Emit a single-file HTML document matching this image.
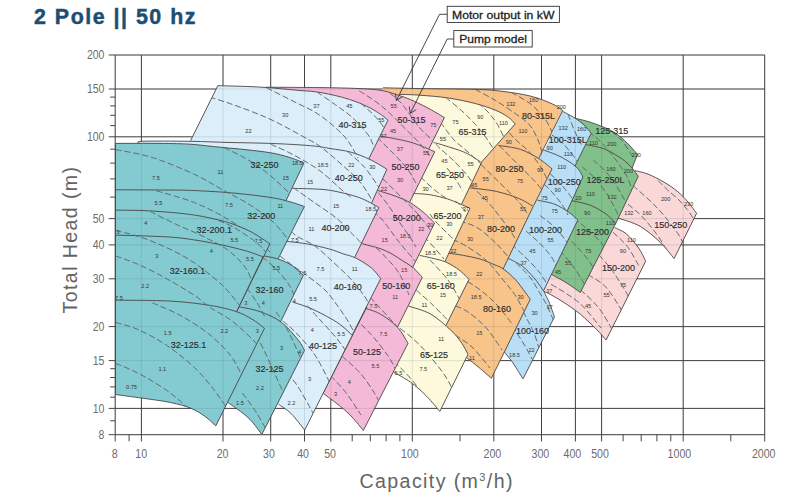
<!DOCTYPE html>
<html lang="en"><head><meta charset="utf-8"><title>2 Pole || 50 hz</title>
<style>html,body{margin:0;padding:0;background:#fff}svg{display:block}</style></head>
<body>
<svg width="797" height="497" viewBox="0 0 797 497">
<rect width="797" height="497" fill="#fff"/>
<path d="M115.2 55V434.7M141.4 55V434.7M223 55V434.7M270.7 55V434.7M304.5 55V434.7M330.8 55V434.7M412.3 55V434.7M493.8 55V434.7M541.5 55V434.7M575.4 55V434.7M601.6 55V434.7M683.2 55V434.7M764.7 55V434.7M115.2 434.7H764.7M115.2 408.4H764.7M115.2 360.6H764.7M115.2 326.6H764.7M115.2 278.8H764.7M115.2 244.9H764.7M115.2 218.6H764.7M115.2 136.8H764.7M115.2 89H764.7M115.2 55H764.7" fill="none" stroke="#4b4343" stroke-width="1"/>
<path d="M115.2 434.7V441.5M141.4 434.7V441.5M223 434.7V441.5M270.7 434.7V441.5M304.5 434.7V441.5M330.8 434.7V441.5M412.3 434.7V441.5M493.8 434.7V441.5M541.5 434.7V441.5M575.4 434.7V441.5M601.6 434.7V441.5M683.2 434.7V441.5M764.7 434.7V441.5M129.1 434.7V441.3M352.2 434.7V441.3M370.3 434.7V441.3M386.1 434.7V441.3M399.9 434.7V441.3M460 434.7V441.3M623.1 434.7V441.3M641.2 434.7V441.3M656.9 434.7V441.3M670.8 434.7V441.3M730.8 434.7V441.3M108.7 434.7H115.2M108.7 408.4H115.2M108.7 360.6H115.2M108.7 326.6H115.2M108.7 278.8H115.2M108.7 244.9H115.2M108.7 218.6H115.2M108.7 136.8H115.2M108.7 89H115.2M108.7 55H115.2M110.2 420.8H115.2M110.2 397.2H115.2M110.2 386.9H115.2M110.2 377.5H115.2M110.2 368.7H115.2M110.2 197.1H115.2M110.2 178.9H115.2M110.2 163.1H115.2M110.2 149.2H115.2M110.2 125.6H115.2M110.2 115.3H115.2M110.2 105.9H115.2M110.2 97.1H115.2" fill="none" stroke="#4b4343" stroke-width="1"/>
<defs><clipPath id="c_lpink"><path d="M634.9 170.6C637.5 171.3 644.5 172.5 650.4 175.1C656.3 177.7 664.8 182.3 670.5 186.2C676.2 190 680.2 193.7 684.6 198.2C689 202.7 694.6 210.8 696.6 213.3L674.1 258.6C671.8 255.9 666 247.9 660.4 242.5C654.8 237.1 647.2 230.4 640.3 226.4C633.4 222.4 622.7 219.7 619.2 218.4L600 205Z"/><path d="M614.6 227.5C616.6 228.6 622.6 230.7 626.6 234.1C630.6 237.5 635.5 243.7 638.7 248.2C641.9 252.7 644.5 259 645.7 261.2L606.1 340C604.5 338.2 600.7 333.6 596.4 329.3C592.1 325 586.3 319.1 580.3 314.2C574.3 309.3 566.3 304 560.2 300.1C554.1 296.2 546.5 292.6 543.7 291.1L551.1 274.3L575 240Z"/></clipPath><clipPath id="c_green"><path d="M575.1 118.2C577.6 118.9 584.3 120.2 590.2 122.2C596.1 124.2 604.6 127.2 610.3 130.2C616 133.2 619.9 136.3 624.4 140.3C628.9 144.3 635.3 152.1 637.5 154.4L630.5 172L600 175L566 175Z"/><path d="M586 144.6C589 145.3 598.7 146.8 604.1 148.8C609.5 150.8 614.6 154.2 618.2 156.4C621.9 158.6 623.6 160 626 162C628.4 164 630.2 165.8 632.3 168.2C634.3 170.6 637.3 174.9 638.3 176.2L615.2 224.5L590 230L560 210Z"/><path d="M570.4 200.3C573.8 201.1 584.5 203 590.5 205.3C596.5 207.7 602.4 211.4 606.6 214.4C610.8 217.4 614.1 222.1 615.6 223.6L580.3 292.4C577.9 290.8 570.9 285.5 566 282.5C561.1 279.5 553.6 275.7 551.1 274.3L545 260Z"/></clipPath><clipPath id="c_blue"><path d="M562.7 111.4C564.8 112.5 571.6 115.9 575.1 118.2C578.6 120.5 581.3 122.5 584 125C586.7 127.5 590 131.9 591.2 133.3L574 168L560 175L535 170Z"/><path d="M543.2 149.8C545.7 150.8 554.1 153.7 558.2 155.6C562.3 157.5 565.2 159.3 568 161C570.8 162.7 573.2 164.4 575.1 166C577 167.6 578.3 169 579.6 170.8C580.9 172.6 582.3 176 582.8 177L566.8 211.8L550 215L520 200Z"/><path d="M537.6 200.2C540.5 200.9 549.5 202.2 554.7 204.2C559.9 206.2 564.9 209.7 568.8 212.3C572.6 214.9 576.3 218.7 577.8 220L543.7 290.4L520 290L500 260Z"/><path d="M508.2 258.3C510.5 259.6 518.1 262.9 522.3 266.1C526.5 269.3 530.1 273.5 533.5 277.3C536.9 281.1 540.2 286 542.4 289.2C544.5 292.4 545.2 294.1 546.4 296.5C547.6 298.9 548.2 300.1 549.6 303.5C551 306.9 553.7 314.6 554.5 316.8L523 378.9C521.3 376.2 516.1 367.5 513 363C509.9 358.5 505.8 353.8 504.3 352L490 340L495 270Z"/></clipPath><clipPath id="c_orange"><path d="M383 87.8C389.2 87.9 404.7 88.3 420 88.6C435.3 88.9 461.6 89 475 89.4C488.4 89.8 491.1 90 500.4 91.1C509.6 92.2 521.8 93.9 530.5 96.1C539.2 98.3 547.3 101.7 552.7 104.1C558.1 106.5 561 109.5 562.7 110.6L538 159.8L520 165L480 170L360 133Z"/><path d="M498.4 145.4C502.1 146.1 513.8 147.2 520.5 149.4C527.2 151.6 533.4 155.3 538.6 158.5C543.9 161.7 549.8 167.1 552 168.8L533.6 205.8L510 210L452 206L468 160Z"/><path d="M470.3 187.9C474.6 188.5 488.2 189.6 496.3 191.4C504.4 193.2 512.8 196 518.9 198.5C525 201 530.8 205.1 533.2 206.4L502.6 270L480 275L440 262L455 215Z"/><path d="M448.6 253.2C451.1 253.6 458.2 254.4 463.4 255.4C468.6 256.4 474.9 257.5 480 259C485.1 260.5 490.2 263 494.1 264.6C498 266.2 499.7 266.4 503.2 268.9C506.7 271.4 511.6 275.5 515.2 279.4C518.9 283.3 522.6 288.8 525.1 292.1C527.6 295.4 529.4 298 530.3 299.2L491.4 378.3C489.3 376.5 483 370.9 479 367.5C475 364.1 469.2 359.8 467.2 358.2L440 330L440 270Z"/></clipPath><clipPath id="c_yellow"><path d="M399.5 94.3C402.9 94.5 412 94.6 420 95.2C428 95.8 438.4 96.5 447.6 97.9C456.8 99.3 467.1 101.4 475.2 103.5C483.2 105.6 490.4 108.1 495.9 110.4C501.4 112.7 505.1 115 508.3 117.3C511.5 119.5 514.1 122.8 515.2 123.9L481.2 162.5L460 170L420 160L400 120Z"/><path d="M433.4 142.6C434.5 142.9 434.7 142.5 440 144.2C445.3 145.9 458.5 149.6 465.4 152.7C472.3 155.8 478.8 160.9 481.5 162.5L461.4 204.5L440 215L405 200L420 160Z"/><path d="M413.3 193.4C416.1 193.6 424.7 193.9 430.4 194.8C436.1 195.7 442.6 197.5 447.3 198.9C452 200.3 454.8 201.8 458.6 203.3C462.4 204.9 468.1 207.4 470 208.2L444.8 261.8L430 275L395 260L405 215Z"/><path d="M419.7 255.4C422.3 256 431 257.8 435.2 258.9C439.4 259.9 441.6 260.2 445.1 261.7C448.6 263.2 453.2 266 456.3 268C459.4 270 461.3 271.8 463.4 273.7C465.5 275.6 468.1 278.4 469 279.3L446 325.4L420 330L390 320L400 280Z"/><path d="M408.6 306.1C412.3 307.4 423.7 310.1 430.7 314.1C437.7 318.1 445.8 325.6 450.8 330.2C455.9 334.8 458.1 338 461 342C463.9 346 466.8 352.3 468 354.4L439.8 411.4C437.6 408.9 431.6 401.2 426.7 396.3C421.8 391.4 416.1 386.2 410.6 382.2C405.1 378.2 396.4 373.8 393.5 372.1L380 360L395 315Z"/></clipPath><clipPath id="c_pink"><path d="M266 87.2C275 87.3 304.3 87.4 320 87.6C335.7 87.8 349.6 88.1 360 88.6C370.4 89.1 376 89.5 382.4 90.6C388.8 91.7 393.5 93.7 398.2 95.2C402.9 96.7 405.8 97.6 410.5 99.6C415.2 101.6 422.1 105 426.3 107.2C430.6 109.4 433 110.9 436 112.6C439 114.3 443 116.8 444.4 117.6L428.6 149.5L400 160L340 160L300 110Z"/><path d="M380.1 136C385.1 137 401.1 139.5 410.2 142.1C419.3 144.7 430.7 150.1 434.8 151.7L409.4 202.6L395 205L350 200L365 150Z"/><path d="M377.6 190.4C380.5 191.3 389.8 194.1 395.2 196.1C400.6 198.1 405.3 199.9 410 202.6C414.7 205.3 419.3 208.9 423.4 212.3C427.5 215.7 432.7 221.2 434.6 223L412.6 267.6L395 275L340 265L360 210Z"/><path d="M361 243.3C362.5 243.7 366.6 244.9 370 245.8C373.4 246.7 377.4 247.5 381.1 248.9C384.8 250.3 388.5 252.1 392 254C395.5 255.9 398.7 258.3 402.3 260.6C405.9 262.9 410.2 265.2 413.5 268C416.8 270.8 420.8 275.8 422.3 277.4L397.5 327.2L380 335L340 330L350 260Z"/><path d="M365.9 308.5C368.3 309.4 375.1 311 380.4 314.1C385.7 317.2 392.9 322.3 397.5 327.2C402.1 332.1 406.2 340.6 408 343.3L363.3 430.5C361.4 428.2 355.9 421 352 417C348.1 413 345 410.2 340.2 406.3C335.4 402.4 326 395.5 323.1 393.3L366.8 307.1Z"/></clipPath><clipPath id="c_lblue"><path d="M217.8 85.7C223.2 85.8 240.5 86.2 250 86.6C259.5 87 266.7 87.5 275 88.2C283.3 88.9 293.5 89.9 300 90.5C306.5 91.1 309.4 91 314.1 91.6C318.8 92.2 323.5 93 328.2 94C332.9 95 337.6 96 342.3 97.3C347 98.6 351.6 100 356.3 101.8C361 103.6 366.2 105.9 370.4 108.1C374.6 110.3 378.8 113.1 381.7 115.1C384.6 117.1 386.9 119.3 388 120.1L368.6 159.2L340 160L190.5 150L190.5 140.8Z"/><path d="M139.5 143.5C139.9 143.1 133.6 141.7 142 141.3C150.4 140.9 175.3 141.1 190 141.3C204.7 141.5 216.6 142.2 230 142.5C243.4 142.8 257.1 142.9 270.5 143.4C283.9 143.9 300.6 144.8 310.5 145.7C320.4 146.5 323.3 147.4 330 148.5C336.7 149.6 344 150.3 350.7 152.1C357.4 153.9 364 156.7 370 159.5C376 162.3 384.1 167.6 386.9 169.2L371.5 203.2L350 215L200 215L139.5 180Z"/><path d="M292.4 188.4C295.3 188.5 303.6 188.5 310 188.8C316.4 189.1 322.5 189 330.6 190.4C338.7 191.8 350.8 194.6 358.8 197.4C366.9 200.2 375.5 205.8 378.9 207.5L354.7 257.3L340 265L250 265L250 200Z"/><path d="M286.3 241.3C289.9 241.8 301 242.8 308.2 244.1C315.4 245.4 323.4 247.4 329.3 249C335.2 250.6 338.9 252.4 343.4 253.9C347.9 255.4 351.4 255.8 356.1 258.2C360.8 260.6 367.4 264.6 371.5 268C375.6 271.4 379.2 276.8 380.7 278.6L351.4 336.5L320 345L250 345L250 250Z"/><path d="M292.4 302C295.3 303 303.7 305.4 310 308.1C316.3 310.8 324.8 315.2 330.1 318.2C335.4 321.2 338.3 323.1 342 326C345.7 328.9 350.6 333.8 352.3 335.3L304.7 430.1C302.4 427.3 295.4 417.8 291 413.5C286.6 409.2 280.6 405.8 278.5 404.3L250 380L260 310Z"/></clipPath><clipPath id="c_teal"><path d="M115.5 143.4C122.9 143.4 147.6 143.3 160 143.4C172.4 143.5 181.7 143.7 190 144.2C198.3 144.7 204.3 145.6 210 146.2C215.7 146.8 218.2 147 224.1 147.6C230 148.2 237.4 148.7 245.2 149.6C252.9 150.5 263.3 151.5 270.6 152.8C277.9 154.1 283.3 155.5 288.9 157.2C294.5 158.9 301.5 161.9 304 162.9L285.6 201.5L280 212L115.5 212Z"/><path d="M115.5 189.8C122.9 189.8 147.5 189.9 160 190C172.5 190.1 178.7 189.9 190.5 190.4C202.3 190.9 217.4 191.6 230.7 192.8C244 194 260.3 195.9 270.2 197.4C280.1 198.9 284.3 200.3 290 201.8C295.7 203.3 302 205.7 304.4 206.5L278 259L270 265L115.5 265Z"/><path d="M262.2 255.6C264.9 256.2 273.4 257.5 278.3 259.1C283.2 260.7 287.2 262.5 291.4 265.2C295.6 267.9 301.3 273.7 303.3 275.4L280.3 322.3L260 325L232 318Z"/><path d="M238.6 306.6C242.2 307.5 253.1 309.1 260.2 311.7C267.3 314.3 274.9 317.4 281.3 322.2C287.7 327 294.5 335.6 298.4 340.3C302.3 345 303.5 348.7 304.5 350.4L261.8 434.5C260.5 432.8 256.9 427.4 254 424C251.1 420.6 248.6 417.9 244.3 414.4C240 410.8 230.9 404.6 228.2 402.7L220 380L225 320Z"/></clipPath><clipPath id="c_teal1"><path d="M115.5 210.1C121.2 210.2 137.5 210.2 150 210.9C162.5 211.6 179.1 213 190.5 214.5C201.9 216 211.7 218.4 218.6 220C225.5 221.6 226.6 221.8 232 223.8C237.4 225.8 244.7 228.5 251 231.8C257.3 235.1 266.8 241.8 269.9 243.8L236.4 312L115.5 312Z"/><path d="M115.5 235.1C124.7 235.4 156.3 236.1 170.4 237.1C184.5 238.1 191.3 239.5 200 240.8C208.7 242.2 215.2 243.6 222.7 245.2C230.2 246.8 238.3 248.7 245 250.6C251.7 252.5 260 255.8 263 256.8L236.4 312L115.5 312Z"/><path d="M115.5 300.1C124.7 300.3 154.6 300.2 170.4 301.1C186.2 302 199.5 303.7 210.6 305.5C221.7 307.3 229.9 309.5 236.8 311.8C243.7 314.1 247.4 316.5 252 319.2C256.6 321.9 262.4 326.7 264.5 328.2L215.8 425.9C214 424.3 208.9 419.1 204.7 416.2C200.5 413.2 196.3 410.5 190.6 408.2C184.9 405.9 178.6 404.2 170.5 402.5C162.4 400.8 151.1 399.4 141.9 398.1C132.7 396.8 119.9 395.1 115.5 394.5Z"/></clipPath></defs>
<path d="M634.9 170.6C637.5 171.3 644.5 172.5 650.4 175.1C656.3 177.7 664.8 182.3 670.5 186.2C676.2 190 680.2 193.7 684.6 198.2C689 202.7 694.6 210.8 696.6 213.3L674.1 258.6C671.8 255.9 666 247.9 660.4 242.5C654.8 237.1 647.2 230.4 640.3 226.4C633.4 222.4 622.7 219.7 619.2 218.4L600 205Z" fill="#fad8d8"/>
<path d="M634.9 170.6C637.5 171.3 644.5 172.5 650.4 175.1C656.3 177.7 664.8 182.3 670.5 186.2C676.2 190 680.2 193.7 684.6 198.2C689 202.7 694.6 210.8 696.6 213.3L674.1 258.6C671.8 255.9 666 247.9 660.4 242.5C654.8 237.1 647.2 230.4 640.3 226.4C633.4 222.4 622.7 219.7 619.2 218.4" fill="none" stroke="#4a4444" stroke-width="0.9" stroke-linejoin="round"/>
<path d="M614.6 227.5C616.6 228.6 622.6 230.7 626.6 234.1C630.6 237.5 635.5 243.7 638.7 248.2C641.9 252.7 644.5 259 645.7 261.2L606.1 340C604.5 338.2 600.7 333.6 596.4 329.3C592.1 325 586.3 319.1 580.3 314.2C574.3 309.3 566.3 304 560.2 300.1C554.1 296.2 546.5 292.6 543.7 291.1L551.1 274.3L575 240Z" fill="#fad8d8"/>
<path d="M614.6 227.5C616.6 228.6 622.6 230.7 626.6 234.1C630.6 237.5 635.5 243.7 638.7 248.2C641.9 252.7 644.5 259 645.7 261.2L606.1 340C604.5 338.2 600.7 333.6 596.4 329.3C592.1 325 586.3 319.1 580.3 314.2C574.3 309.3 566.3 304 560.2 300.1C554.1 296.2 546.5 292.6 543.7 291.1" fill="none" stroke="#4a4444" stroke-width="0.9" stroke-linejoin="round"/>
<path clip-path="url(#c_lpink)" d="M658 180.5C659.6 182.1 664.1 186.8 667.6 190C671.1 193.2 675.6 196.6 678.9 199.9C682.2 203.2 684.9 206.7 687.3 209.7C689.6 212.7 691.4 215.3 693 218C694.6 220.7 696.3 224.7 697 226M633 185.5C633.8 186.2 634.6 186.9 638 190C641.4 193.1 648.8 199.4 653.5 204.1C658.2 208.8 662 213 666.2 218.2C670.4 223.4 676.1 230.9 678.9 235.1C681.7 239.3 681.8 240.7 683.1 243.5C684.5 246.3 686.4 250.6 687 252M621 198.5C622.4 199.7 626.1 202.4 629.6 205.5C633.1 208.6 637.8 212.1 642.3 216.8C646.8 221.5 652.3 228.3 656.3 233.7C660.3 239.1 663.6 244.8 666.2 249.2C668.8 253.6 671 258.2 672 260M613 232.3C615.4 234.6 622.9 240.7 627.2 246.3C631.5 251.9 637 262.7 639 266M599 254.8C601.3 257.6 608.3 265.1 613 271.7C617.7 278.3 623.9 288.1 627.2 294.2C630.5 300.2 632 305.7 633 308M587.7 274.5C590.5 276.4 599.4 280.6 604.6 285.8C609.8 291 615.1 299.8 618.7 305.5C622.3 311.2 624.8 317.6 626 320M565.2 280.1C568 282 576.5 286.7 582.1 291.4C587.7 296.1 594 302 599 308.3C604 314.6 609.8 325.6 612 329M551.1 284.4C553.5 285.8 560 289.3 565.2 292.8C570.4 296.3 576.1 299.6 582.1 305.5C588.1 311.4 597.9 324.2 601 328" fill="none" stroke="#626a6e" stroke-width="1" stroke-dasharray="6.2 2.8"/>
<path d="M575.1 118.2C577.6 118.9 584.3 120.2 590.2 122.2C596.1 124.2 604.6 127.2 610.3 130.2C616 133.2 619.9 136.3 624.4 140.3C628.9 144.3 635.3 152.1 637.5 154.4L630.5 172L600 175L566 175Z" fill="#82c08b"/>
<path d="M575.1 118.2C577.6 118.9 584.3 120.2 590.2 122.2C596.1 124.2 604.6 127.2 610.3 130.2C616 133.2 619.9 136.3 624.4 140.3C628.9 144.3 635.3 152.1 637.5 154.4L630.5 172" fill="none" stroke="#4a4444" stroke-width="0.9" stroke-linejoin="round"/>
<path d="M586 144.6C589 145.3 598.7 146.8 604.1 148.8C609.5 150.8 614.6 154.2 618.2 156.4C621.9 158.6 623.6 160 626 162C628.4 164 630.2 165.8 632.3 168.2C634.3 170.6 637.3 174.9 638.3 176.2L615.2 224.5L590 230L560 210Z" fill="#82c08b"/>
<path d="M586 144.6C589 145.3 598.7 146.8 604.1 148.8C609.5 150.8 614.6 154.2 618.2 156.4C621.9 158.6 623.6 160 626 162C628.4 164 630.2 165.8 632.3 168.2C634.3 170.6 637.3 174.9 638.3 176.2L615.2 224.5" fill="none" stroke="#4a4444" stroke-width="0.9" stroke-linejoin="round"/>
<path d="M570.4 200.3C573.8 201.1 584.5 203 590.5 205.3C596.5 207.7 602.4 211.4 606.6 214.4C610.8 217.4 614.1 222.1 615.6 223.6L580.3 292.4C577.9 290.8 570.9 285.5 566 282.5C561.1 279.5 553.6 275.7 551.1 274.3L545 260Z" fill="#82c08b"/>
<path d="M570.4 200.3C573.8 201.1 584.5 203 590.5 205.3C596.5 207.7 602.4 211.4 606.6 214.4C610.8 217.4 614.1 222.1 615.6 223.6L580.3 292.4C577.9 290.8 570.9 285.5 566 282.5C561.1 279.5 553.6 275.7 551.1 274.3" fill="none" stroke="#4a4444" stroke-width="0.9" stroke-linejoin="round"/>
<path clip-path="url(#c_green)" d="M604.5 126C607.3 128.3 616.5 134.6 621.4 140.1C626.3 145.6 631.9 155.8 634 159M589 131.6C591.1 133.5 597.2 138.2 601.7 142.9C606.2 147.6 611.6 154.2 615.8 159.8C620 165.4 624.3 171.7 627 176.7C629.7 181.7 631.2 187.8 632 190M593.2 159.8C596 162.6 604.9 170.1 610.1 176.7C615.3 183.3 621.2 193.6 624.2 199.2C627.2 204.8 627.4 208.2 628 210M582 166.8C584.4 168.9 591.4 174.1 596.1 179.5C600.8 184.9 606.1 192.6 610.1 199.2C614.1 205.8 618.4 215.7 620 219M573.7 218.2C576 220.1 583 225.2 587.7 229.4C592.4 233.6 598.2 239.2 601.8 243.5C605.3 247.8 607.8 253.1 609 255M565.2 235.1C567.1 237 572.3 241.6 576.5 246.3C580.7 251 587 257.9 590.6 263.2C594.2 268.5 596.8 275.5 598 278M559.6 250.6C561.5 252.7 567 258.3 570.8 263.2C574.5 268.1 579.4 275.5 582.1 280.1C584.8 284.7 586.2 289.2 587 291" fill="none" stroke="#626a6e" stroke-width="1" stroke-dasharray="6.2 2.8"/>
<path d="M562.7 111.4C564.8 112.5 571.6 115.9 575.1 118.2C578.6 120.5 581.3 122.5 584 125C586.7 127.5 590 131.9 591.2 133.3L574 168L560 175L535 170Z" fill="#b9dff7"/>
<path d="M562.7 111.4C564.8 112.5 571.6 115.9 575.1 118.2C578.6 120.5 581.3 122.5 584 125C586.7 127.5 590 131.9 591.2 133.3L574 168" fill="none" stroke="#4a4444" stroke-width="0.9" stroke-linejoin="round"/>
<path d="M543.2 149.8C545.7 150.8 554.1 153.7 558.2 155.6C562.3 157.5 565.2 159.3 568 161C570.8 162.7 573.2 164.4 575.1 166C577 167.6 578.3 169 579.6 170.8C580.9 172.6 582.3 176 582.8 177L566.8 211.8L550 215L520 200Z" fill="#b9dff7"/>
<path d="M543.2 149.8C545.7 150.8 554.1 153.7 558.2 155.6C562.3 157.5 565.2 159.3 568 161C570.8 162.7 573.2 164.4 575.1 166C577 167.6 578.3 169 579.6 170.8C580.9 172.6 582.3 176 582.8 177L566.8 211.8" fill="none" stroke="#4a4444" stroke-width="0.9" stroke-linejoin="round"/>
<path d="M537.6 200.2C540.5 200.9 549.5 202.2 554.7 204.2C559.9 206.2 564.9 209.7 568.8 212.3C572.6 214.9 576.3 218.7 577.8 220L543.7 290.4L520 290L500 260Z" fill="#b9dff7"/>
<path d="M537.6 200.2C540.5 200.9 549.5 202.2 554.7 204.2C559.9 206.2 564.9 209.7 568.8 212.3C572.6 214.9 576.3 218.7 577.8 220L543.7 290.4" fill="none" stroke="#4a4444" stroke-width="0.9" stroke-linejoin="round"/>
<path d="M508.2 258.3C510.5 259.6 518.1 262.9 522.3 266.1C526.5 269.3 530.1 273.5 533.5 277.3C536.9 281.1 540.2 286 542.4 289.2C544.5 292.4 545.2 294.1 546.4 296.5C547.6 298.9 548.2 300.1 549.6 303.5C551 306.9 553.7 314.6 554.5 316.8L523 378.9C521.3 376.2 516.1 367.5 513 363C509.9 358.5 505.8 353.8 504.3 352L490 340L495 270Z" fill="#b9dff7"/>
<path d="M508.2 258.3C510.5 259.6 518.1 262.9 522.3 266.1C526.5 269.3 530.1 273.5 533.5 277.3C536.9 281.1 540.2 286 542.4 289.2C544.5 292.4 545.2 294.1 546.4 296.5C547.6 298.9 548.2 300.1 549.6 303.5C551 306.9 553.7 314.6 554.5 316.8L523 378.9C521.3 376.2 516.1 367.5 513 363C509.9 358.5 505.8 353.8 504.3 352" fill="none" stroke="#4a4444" stroke-width="0.9" stroke-linejoin="round"/>
<path clip-path="url(#c_blue)" d="M567.9 114C569.1 116.9 572.5 126.3 574.9 131.6C577.2 136.9 580.8 143.6 582 146M551 134.4C552.9 135.8 558.1 138.7 562.3 142.9C566.5 147.1 573 155.1 576.3 159.8C579.6 164.5 581 169.1 582 171M542.5 168.2C544.9 170.1 551.9 174.8 556.6 179.5C561.3 184.2 567.6 192 570.7 196.4C573.8 200.8 574.3 204.4 575 206M536.9 179.5C538.8 180.9 544 183.8 548.2 188C552.4 192.2 559 200.4 562.3 204.9C565.6 209.4 567 213.3 568 215M539.9 215.4C542.2 217.3 549.2 221.9 553.9 226.6C558.6 231.3 564.5 238.4 568 243.5C571.5 248.6 573.8 254.8 575 257M526 231C528.2 233 535.1 238.7 539.2 242.8C543.3 246.9 547.6 251.7 550.4 255.5C553.2 259.3 554.4 262.1 556 265.4C557.6 268.6 559.3 273.4 560 275M512 244C512.5 244.6 512.3 244.8 515.2 247.7C518.1 250.5 525.1 256.8 529.3 261.1C533.5 265.5 537.3 269.3 540.6 273.8C543.9 278.3 547.6 285.5 549 287.9M516 263C516.8 263.8 518.3 265 520.8 267.5C523.2 270 527.6 273.9 530.7 278C533.8 282.1 536.6 287.8 539.2 292.1C541.8 296.5 544.2 300 546.3 304.1C548.4 308.2 550.5 313.5 552 316.8C553.5 320.1 554.5 322.8 555 324M515 295C516.9 298.9 523.5 312 526.6 318.2C529.7 324.4 531.6 327.3 533.7 332.3C535.8 337.3 538.1 345.4 539 348M508 318C509.2 320.1 512.5 326.1 515.4 330.8C518.3 335.5 522.4 341.6 525.2 346.3C528 351 530.9 356.9 532 359" fill="none" stroke="#626a6e" stroke-width="1" stroke-dasharray="6.2 2.8"/>
<path d="M383 87.8C389.2 87.9 404.7 88.3 420 88.6C435.3 88.9 461.6 89 475 89.4C488.4 89.8 491.1 90 500.4 91.1C509.6 92.2 521.8 93.9 530.5 96.1C539.2 98.3 547.3 101.7 552.7 104.1C558.1 106.5 561 109.5 562.7 110.6L538 159.8L520 165L480 170L360 133Z" fill="#f8c48a"/>
<path d="M383 87.8C389.2 87.9 404.7 88.3 420 88.6C435.3 88.9 461.6 89 475 89.4C488.4 89.8 491.1 90 500.4 91.1C509.6 92.2 521.8 93.9 530.5 96.1C539.2 98.3 547.3 101.7 552.7 104.1C558.1 106.5 561 109.5 562.7 110.6L538 159.8" fill="none" stroke="#4a4444" stroke-width="0.9" stroke-linejoin="round"/>
<path d="M498.4 145.4C502.1 146.1 513.8 147.2 520.5 149.4C527.2 151.6 533.4 155.3 538.6 158.5C543.9 161.7 549.8 167.1 552 168.8L533.6 205.8L510 210L452 206L468 160Z" fill="#f8c48a"/>
<path d="M498.4 145.4C502.1 146.1 513.8 147.2 520.5 149.4C527.2 151.6 533.4 155.3 538.6 158.5C543.9 161.7 549.8 167.1 552 168.8L533.6 205.8" fill="none" stroke="#4a4444" stroke-width="0.9" stroke-linejoin="round"/>
<path d="M470.3 187.9C474.6 188.5 488.2 189.6 496.3 191.4C504.4 193.2 512.8 196 518.9 198.5C525 201 530.8 205.1 533.2 206.4L502.6 270L480 275L440 262L455 215Z" fill="#f8c48a"/>
<path d="M470.3 187.9C474.6 188.5 488.2 189.6 496.3 191.4C504.4 193.2 512.8 196 518.9 198.5C525 201 530.8 205.1 533.2 206.4L502.6 270" fill="none" stroke="#4a4444" stroke-width="0.9" stroke-linejoin="round"/>
<path d="M448.6 253.2C451.1 253.6 458.2 254.4 463.4 255.4C468.6 256.4 474.9 257.5 480 259C485.1 260.5 490.2 263 494.1 264.6C498 266.2 499.7 266.4 503.2 268.9C506.7 271.4 511.6 275.5 515.2 279.4C518.9 283.3 522.6 288.8 525.1 292.1C527.6 295.4 529.4 298 530.3 299.2L491.4 378.3C489.3 376.5 483 370.9 479 367.5C475 364.1 469.2 359.8 467.2 358.2L440 330L440 270Z" fill="#f8c48a"/>
<path d="M448.6 253.2C451.1 253.6 458.2 254.4 463.4 255.4C468.6 256.4 474.9 257.5 480 259C485.1 260.5 490.2 263 494.1 264.6C498 266.2 499.7 266.4 503.2 268.9C506.7 271.4 511.6 275.5 515.2 279.4C518.9 283.3 522.6 288.8 525.1 292.1C527.6 295.4 529.4 298 530.3 299.2L491.4 378.3C489.3 376.5 483 370.9 479 367.5C475 364.1 469.2 359.8 467.2 358.2" fill="none" stroke="#4a4444" stroke-width="0.9" stroke-linejoin="round"/>
<path clip-path="url(#c_orange)" d="M511.1 92.4C514.2 94.2 524.4 99.1 530 103.5C535.6 107.9 541 113.6 545 119C549 124.4 552.5 133.2 554 136M475.2 89.4C478.6 91.3 489 96.5 495.9 100.7C502.8 104.9 510.9 110.4 516.6 114.5C522.3 118.6 526.4 121.2 530 125.5C533.6 129.8 535.8 134.9 538 140C540.2 145.1 542.2 153.3 543 156M503 126C505.2 128.3 511.6 135.6 516.1 140C520.6 144.4 525.9 148 530.1 152.7C534.3 157.4 538.4 163.5 541.4 168.2C544.4 172.9 546.9 178.9 548 181M499.2 145.6C502.5 148.9 512.8 159.3 518.9 165.4C525 171.5 531.8 178 535.8 182.3C539.8 186.7 541.8 190 543 191.5M481 164.5C484 167.5 492.9 176.1 499.2 182.3C505.5 188.6 514.3 196.9 518.9 202C523.5 207.1 525.6 211.2 527 213M470.3 185.1C473 187.7 482.1 195.9 486.5 200.6C490.9 205.2 493.2 208.3 497 213C500.8 217.7 505.5 224 509 229C512.5 234 515.3 238.5 518 243C520.7 247.5 523.8 253.8 525 256M459.6 221C462.7 222.2 471.6 224 477.9 228C484.2 232 491.8 239.1 497.6 244.9C503.5 250.7 510.4 260 513 263M452.5 239.3C454.9 240.5 461 242.8 466.6 246.3C472.2 249.8 480.2 254.8 486.3 260.4C492.4 266 498.5 274.5 503.2 280.1C507.9 285.7 511 289.1 514.5 294.2C518 299.3 522.4 308.2 524 311M451.1 274.5C454.6 276.1 465 279.7 472.3 284.4C479.6 289.1 488 295.9 494.8 302.7C501.6 309.5 510 321.3 513 325M446.9 302.7C450.2 304.1 460 306.9 466.6 311.1C473.2 315.3 480.4 321.5 486.3 328C492.2 334.5 499.4 346.3 502 350M455 335C457.8 337 466.2 341.5 472 347C477.8 352.5 487 364.5 490 368" fill="none" stroke="#626a6e" stroke-width="1" stroke-dasharray="6.2 2.8"/>
<path d="M399.5 94.3C402.9 94.5 412 94.6 420 95.2C428 95.8 438.4 96.5 447.6 97.9C456.8 99.3 467.1 101.4 475.2 103.5C483.2 105.6 490.4 108.1 495.9 110.4C501.4 112.7 505.1 115 508.3 117.3C511.5 119.5 514.1 122.8 515.2 123.9L481.2 162.5L460 170L420 160L400 120Z" fill="#fdf9dc"/>
<path d="M399.5 94.3C402.9 94.5 412 94.6 420 95.2C428 95.8 438.4 96.5 447.6 97.9C456.8 99.3 467.1 101.4 475.2 103.5C483.2 105.6 490.4 108.1 495.9 110.4C501.4 112.7 505.1 115 508.3 117.3C511.5 119.5 514.1 122.8 515.2 123.9L481.2 162.5" fill="none" stroke="#4a4444" stroke-width="0.9" stroke-linejoin="round"/>
<path d="M433.4 142.6C434.5 142.9 434.7 142.5 440 144.2C445.3 145.9 458.5 149.6 465.4 152.7C472.3 155.8 478.8 160.9 481.5 162.5L461.4 204.5L440 215L405 200L420 160Z" fill="#fdf9dc"/>
<path d="M433.4 142.6C434.5 142.9 434.7 142.5 440 144.2C445.3 145.9 458.5 149.6 465.4 152.7C472.3 155.8 478.8 160.9 481.5 162.5L461.4 204.5" fill="none" stroke="#4a4444" stroke-width="0.9" stroke-linejoin="round"/>
<path d="M413.3 193.4C416.1 193.6 424.7 193.9 430.4 194.8C436.1 195.7 442.6 197.5 447.3 198.9C452 200.3 454.8 201.8 458.6 203.3C462.4 204.9 468.1 207.4 470 208.2L444.8 261.8L430 275L395 260L405 215Z" fill="#fdf9dc"/>
<path d="M413.3 193.4C416.1 193.6 424.7 193.9 430.4 194.8C436.1 195.7 442.6 197.5 447.3 198.9C452 200.3 454.8 201.8 458.6 203.3C462.4 204.9 468.1 207.4 470 208.2L444.8 261.8" fill="none" stroke="#4a4444" stroke-width="0.9" stroke-linejoin="round"/>
<path d="M419.7 255.4C422.3 256 431 257.8 435.2 258.9C439.4 259.9 441.6 260.2 445.1 261.7C448.6 263.2 453.2 266 456.3 268C459.4 270 461.3 271.8 463.4 273.7C465.5 275.6 468.1 278.4 469 279.3L446 325.4L420 330L390 320L400 280Z" fill="#fdf9dc"/>
<path d="M419.7 255.4C422.3 256 431 257.8 435.2 258.9C439.4 259.9 441.6 260.2 445.1 261.7C448.6 263.2 453.2 266 456.3 268C459.4 270 461.3 271.8 463.4 273.7C465.5 275.6 468.1 278.4 469 279.3L446 325.4" fill="none" stroke="#4a4444" stroke-width="0.9" stroke-linejoin="round"/>
<path d="M408.6 306.1C412.3 307.4 423.7 310.1 430.7 314.1C437.7 318.1 445.8 325.6 450.8 330.2C455.9 334.8 458.1 338 461 342C463.9 346 466.8 352.3 468 354.4L439.8 411.4C437.6 408.9 431.6 401.2 426.7 396.3C421.8 391.4 416.1 386.2 410.6 382.2C405.1 378.2 396.4 373.8 393.5 372.1L380 360L395 315Z" fill="#fdf9dc"/>
<path d="M408.6 306.1C412.3 307.4 423.7 310.1 430.7 314.1C437.7 318.1 445.8 325.6 450.8 330.2C455.9 334.8 458.1 338 461 342C463.9 346 466.8 352.3 468 354.4L439.8 411.4C437.6 408.9 431.6 401.2 426.7 396.3C421.8 391.4 416.1 386.2 410.6 382.2C405.1 378.2 396.4 373.8 393.5 372.1" fill="none" stroke="#4a4444" stroke-width="0.9" stroke-linejoin="round"/>
<path clip-path="url(#c_yellow)" d="M445.5 97.3C448.1 99.5 456.4 105.9 461.4 110.4C466.3 114.9 471 119.6 475.2 124.2C479.4 128.8 483.2 133.7 486.3 138C489.4 142.3 492.7 148 494 150M478 102.8C479.8 104.5 485.8 109.5 489 113.1C492.2 116.7 494.8 120 497.3 124.2C499.8 128.3 503.1 135.7 504.2 138M440.4 122.3C442.7 125.2 449.5 135.1 454.1 140C458.7 144.9 463.5 148 468 152C472.5 156 478.8 162 481 164M436 144C436.7 144.8 437 145.7 440 148.5C443 151.3 449.4 156.4 454.1 161.1C458.8 165.8 464.6 172.1 468.2 176.6C471.8 181.1 474.7 186.1 476 188M415 170C416.4 171.7 420.1 176.4 423.7 180C427.2 183.6 432.5 188.2 436.3 191.3C440.1 194.4 444.8 197.3 446.5 198.5M447 168C448.5 170 453.4 176.2 456 180C458.6 183.8 461.4 188.8 462.5 190.5M455 201C455.6 201.5 457.1 202 458.9 203.9C460.7 205.8 464.2 210.1 465.9 212.4C467.6 214.8 468.5 217.1 469 218M430 214C430.8 215.1 432 217.6 434.9 220.8C437.8 224.1 444.1 230 447.6 233.5C451.1 237 453.9 239.8 456 242C458.1 244.2 459.3 246.2 460 247M418 230C419.4 231.5 423.4 235.9 426.5 239.2C429.6 242.5 433.4 246.7 436.3 250C439.2 253.3 442.7 257.5 444 259M430 260C433 263.3 443 273.3 448 280C453 286.7 458 296.7 460 300M404 277C406.1 279.2 411.9 285.7 416.3 290C420.7 294.3 425.5 298 430.4 302.7C435.3 307.4 442.6 314.8 445.9 318.2C449.2 321.6 449.3 322.2 450 323M394 322C394.7 322.8 395 324 398 326.6C401 329.2 407.4 333.7 412.1 337.9C416.8 342.1 420.8 345.8 426.2 352C431.6 358.2 439.6 367.7 444.6 375C449.6 382.3 454.1 392.5 456 396M394 361.7C396.8 364.5 404.5 371.2 410.8 378.6C417.1 386 428.5 401.4 432 406" fill="none" stroke="#626a6e" stroke-width="1" stroke-dasharray="6.2 2.8"/>
<path d="M266 87.2C275 87.3 304.3 87.4 320 87.6C335.7 87.8 349.6 88.1 360 88.6C370.4 89.1 376 89.5 382.4 90.6C388.8 91.7 393.5 93.7 398.2 95.2C402.9 96.7 405.8 97.6 410.5 99.6C415.2 101.6 422.1 105 426.3 107.2C430.6 109.4 433 110.9 436 112.6C439 114.3 443 116.8 444.4 117.6L428.6 149.5L400 160L340 160L300 110Z" fill="#f4b9d7"/>
<path d="M266 87.2C275 87.3 304.3 87.4 320 87.6C335.7 87.8 349.6 88.1 360 88.6C370.4 89.1 376 89.5 382.4 90.6C388.8 91.7 393.5 93.7 398.2 95.2C402.9 96.7 405.8 97.6 410.5 99.6C415.2 101.6 422.1 105 426.3 107.2C430.6 109.4 433 110.9 436 112.6C439 114.3 443 116.8 444.4 117.6L428.6 149.5" fill="none" stroke="#4a4444" stroke-width="0.9" stroke-linejoin="round"/>
<path d="M380.1 136C385.1 137 401.1 139.5 410.2 142.1C419.3 144.7 430.7 150.1 434.8 151.7L409.4 202.6L395 205L350 200L365 150Z" fill="#f4b9d7"/>
<path d="M380.1 136C385.1 137 401.1 139.5 410.2 142.1C419.3 144.7 430.7 150.1 434.8 151.7L409.4 202.6" fill="none" stroke="#4a4444" stroke-width="0.9" stroke-linejoin="round"/>
<path d="M377.6 190.4C380.5 191.3 389.8 194.1 395.2 196.1C400.6 198.1 405.3 199.9 410 202.6C414.7 205.3 419.3 208.9 423.4 212.3C427.5 215.7 432.7 221.2 434.6 223L412.6 267.6L395 275L340 265L360 210Z" fill="#f4b9d7"/>
<path d="M377.6 190.4C380.5 191.3 389.8 194.1 395.2 196.1C400.6 198.1 405.3 199.9 410 202.6C414.7 205.3 419.3 208.9 423.4 212.3C427.5 215.7 432.7 221.2 434.6 223L412.6 267.6" fill="none" stroke="#4a4444" stroke-width="0.9" stroke-linejoin="round"/>
<path d="M361 243.3C362.5 243.7 366.6 244.9 370 245.8C373.4 246.7 377.4 247.5 381.1 248.9C384.8 250.3 388.5 252.1 392 254C395.5 255.9 398.7 258.3 402.3 260.6C405.9 262.9 410.2 265.2 413.5 268C416.8 270.8 420.8 275.8 422.3 277.4L397.5 327.2L380 335L340 330L350 260Z" fill="#f4b9d7"/>
<path d="M361 243.3C362.5 243.7 366.6 244.9 370 245.8C373.4 246.7 377.4 247.5 381.1 248.9C384.8 250.3 388.5 252.1 392 254C395.5 255.9 398.7 258.3 402.3 260.6C405.9 262.9 410.2 265.2 413.5 268C416.8 270.8 420.8 275.8 422.3 277.4L397.5 327.2" fill="none" stroke="#4a4444" stroke-width="0.9" stroke-linejoin="round"/>
<path d="M365.9 308.5C368.3 309.4 375.1 311 380.4 314.1C385.7 317.2 392.9 322.3 397.5 327.2C402.1 332.1 406.2 340.6 408 343.3L363.3 430.5C361.4 428.2 355.9 421 352 417C348.1 413 345 410.2 340.2 406.3C335.4 402.4 326 395.5 323.1 393.3L366.8 307.1Z" fill="#f4b9d7"/>
<path d="M365.9 308.5C368.3 309.4 375.1 311 380.4 314.1C385.7 317.2 392.9 322.3 397.5 327.2C402.1 332.1 406.2 340.6 408 343.3L363.3 430.5C361.4 428.2 355.9 421 352 417C348.1 413 345 410.2 340.2 406.3C335.4 402.4 326 395.5 323.1 393.3L366.8 307.1Z" fill="none" stroke="#4a4444" stroke-width="0.9" stroke-linejoin="round"/>
<path clip-path="url(#c_pink)" d="M371 131C372.4 132.4 375.2 135.3 379.4 139.6C383.6 143.8 391.6 151.6 396.3 156.5C401 161.4 404.5 165 407.6 169.2C410.7 173.3 412.6 177.3 415 181.4C417.4 185.5 420.8 191.9 422 194M390.1 93.3C392.1 95.1 397.2 98.4 402 104C406.8 109.6 414.2 121.2 418.9 126.9C423.6 132.6 427.4 135.2 430.1 138.2C432.8 141.2 434.2 143.9 435 145M359.2 90.8C362 92.6 371 98.1 376 101.8C381 105.5 384.7 108.6 389.3 112.8C393.9 117 398.5 122 403.4 126.9C408.3 131.8 414.4 137.5 418.9 142.4C423.3 147.3 427.6 153.2 430.1 156.5C432.6 159.8 433.4 161.1 434 162M378.3 192.5C379.9 194.6 384.7 200.3 388.2 205.2C391.7 210.1 395.9 216.9 399.4 222.1C402.9 227.3 406.5 232 409.3 236.2C412.1 240.3 414.9 245.2 416 247M373 211C374.6 212.5 378.1 214.8 382.5 220C386.9 225.2 394 235.7 399.4 242.5C404.8 249.3 411.8 256.9 414.9 260.8C418 264.7 417.5 265.1 418 266M376 173C377.6 174.4 381 177.1 385.4 181.3C389.8 185.5 397.1 193 402.3 198.2C407.5 203.4 412.1 207.6 416.3 212.3C420.5 217 425.2 223 427.6 226.3C430.1 229.6 430.4 231.1 431 232M376 248C376.9 248.7 377.9 249.1 381.1 252.4C384.3 255.7 391.7 263.4 395.2 267.9C398.7 272.4 400 274.7 402.3 279.2C404.6 283.7 407.9 292.4 409 295M352 277C353.3 278.5 356.8 282.4 360 286C363.2 289.6 366.6 293.4 371.3 298.5C376 303.6 383.8 312.1 388.2 316.8C392.6 321.6 395.9 325.3 397.5 327M355 318C356.2 319.2 358.9 321.9 362.1 325.2C365.3 328.5 369.8 332.7 374.1 337.9C378.5 343.1 384.6 350.8 388.2 356.2C391.8 361.6 394.7 367.7 396 370M341.8 356C344.9 358.8 354.7 366.9 360.1 373C365.5 379.1 370.6 386.9 374.2 392.7C377.8 398.5 380.7 405.4 382 408M330.6 375.8C333.2 378.6 340.9 386.2 346 392.7C351.1 399.2 358.5 411.3 361 415" fill="none" stroke="#626a6e" stroke-width="1" stroke-dasharray="6.2 2.8"/>
<path d="M217.8 85.7C223.2 85.8 240.5 86.2 250 86.6C259.5 87 266.7 87.5 275 88.2C283.3 88.9 293.5 89.9 300 90.5C306.5 91.1 309.4 91 314.1 91.6C318.8 92.2 323.5 93 328.2 94C332.9 95 337.6 96 342.3 97.3C347 98.6 351.6 100 356.3 101.8C361 103.6 366.2 105.9 370.4 108.1C374.6 110.3 378.8 113.1 381.7 115.1C384.6 117.1 386.9 119.3 388 120.1L368.6 159.2L340 160L190.5 150L190.5 140.8Z" fill="#dbeefa"/>
<path d="M217.8 85.7C223.2 85.8 240.5 86.2 250 86.6C259.5 87 266.7 87.5 275 88.2C283.3 88.9 293.5 89.9 300 90.5C306.5 91.1 309.4 91 314.1 91.6C318.8 92.2 323.5 93 328.2 94C332.9 95 337.6 96 342.3 97.3C347 98.6 351.6 100 356.3 101.8C361 103.6 366.2 105.9 370.4 108.1C374.6 110.3 378.8 113.1 381.7 115.1C384.6 117.1 386.9 119.3 388 120.1L368.6 159.2" fill="none" stroke="#4a4444" stroke-width="0.9" stroke-linejoin="round"/>
<path d="M139.5 143.5C139.9 143.1 133.6 141.7 142 141.3C150.4 140.9 175.3 141.1 190 141.3C204.7 141.5 216.6 142.2 230 142.5C243.4 142.8 257.1 142.9 270.5 143.4C283.9 143.9 300.6 144.8 310.5 145.7C320.4 146.5 323.3 147.4 330 148.5C336.7 149.6 344 150.3 350.7 152.1C357.4 153.9 364 156.7 370 159.5C376 162.3 384.1 167.6 386.9 169.2L371.5 203.2L350 215L200 215L139.5 180Z" fill="#dbeefa"/>
<path d="M139.5 143.5C139.9 143.1 133.6 141.7 142 141.3C150.4 140.9 175.3 141.1 190 141.3C204.7 141.5 216.6 142.2 230 142.5C243.4 142.8 257.1 142.9 270.5 143.4C283.9 143.9 300.6 144.8 310.5 145.7C320.4 146.5 323.3 147.4 330 148.5C336.7 149.6 344 150.3 350.7 152.1C357.4 153.9 364 156.7 370 159.5C376 162.3 384.1 167.6 386.9 169.2L371.5 203.2" fill="none" stroke="#4a4444" stroke-width="0.9" stroke-linejoin="round"/>
<path d="M292.4 188.4C295.3 188.5 303.6 188.5 310 188.8C316.4 189.1 322.5 189 330.6 190.4C338.7 191.8 350.8 194.6 358.8 197.4C366.9 200.2 375.5 205.8 378.9 207.5L354.7 257.3L340 265L250 265L250 200Z" fill="#dbeefa"/>
<path d="M292.4 188.4C295.3 188.5 303.6 188.5 310 188.8C316.4 189.1 322.5 189 330.6 190.4C338.7 191.8 350.8 194.6 358.8 197.4C366.9 200.2 375.5 205.8 378.9 207.5L354.7 257.3" fill="none" stroke="#4a4444" stroke-width="0.9" stroke-linejoin="round"/>
<path d="M286.3 241.3C289.9 241.8 301 242.8 308.2 244.1C315.4 245.4 323.4 247.4 329.3 249C335.2 250.6 338.9 252.4 343.4 253.9C347.9 255.4 351.4 255.8 356.1 258.2C360.8 260.6 367.4 264.6 371.5 268C375.6 271.4 379.2 276.8 380.7 278.6L351.4 336.5L320 345L250 345L250 250Z" fill="#dbeefa"/>
<path d="M286.3 241.3C289.9 241.8 301 242.8 308.2 244.1C315.4 245.4 323.4 247.4 329.3 249C335.2 250.6 338.9 252.4 343.4 253.9C347.9 255.4 351.4 255.8 356.1 258.2C360.8 260.6 367.4 264.6 371.5 268C375.6 271.4 379.2 276.8 380.7 278.6L351.4 336.5" fill="none" stroke="#4a4444" stroke-width="0.9" stroke-linejoin="round"/>
<path d="M292.4 302C295.3 303 303.7 305.4 310 308.1C316.3 310.8 324.8 315.2 330.1 318.2C335.4 321.2 338.3 323.1 342 326C345.7 328.9 350.6 333.8 352.3 335.3L304.7 430.1C302.4 427.3 295.4 417.8 291 413.5C286.6 409.2 280.6 405.8 278.5 404.3L250 380L260 310Z" fill="#dbeefa"/>
<path d="M292.4 302C295.3 303 303.7 305.4 310 308.1C316.3 310.8 324.8 315.2 330.1 318.2C335.4 321.2 338.3 323.1 342 326C345.7 328.9 350.6 333.8 352.3 335.3L304.7 430.1C302.4 427.3 295.4 417.8 291 413.5C286.6 409.2 280.6 405.8 278.5 404.3" fill="none" stroke="#4a4444" stroke-width="0.9" stroke-linejoin="round"/>
<path d="M217.8 85.7L190.5 140.8" fill="none" stroke="#4a4444" stroke-width="0.9"/>
<path clip-path="url(#c_lblue)" d="M209.5 97C213 98.1 223.1 101.2 230.3 103.7C237.5 106.2 245.3 109 252.9 112C260.4 115 266.9 117.5 275.6 121.8C284.3 126.1 297.6 133.5 305 137.6C312.4 141.7 314.6 142.5 319.9 146.2C325.1 149.9 330.1 154.4 336.5 160C342.9 165.6 352.6 173.8 358.2 180C363.8 186.2 366.7 191 370.1 196.9C373.5 202.8 377.2 212.1 378.6 215.2M266.5 87.8C269.3 89.2 277.5 93.3 283.1 96.1C288.7 98.9 294.8 102 300 104.6C305.2 107.2 309.4 108.8 314.1 111.6C318.8 114.4 323.5 117.7 328.2 121.5C332.9 125.3 338.6 130.3 342.3 134.2C346.1 138.1 348.1 141 350.7 145C353.3 149 356.8 155.8 358 158M316.9 91.9C319.9 94 329.3 100.4 335.2 104.6C341.1 108.8 346.7 112.4 352.1 117.3C357.5 122.2 364.1 129.6 367.6 134.2C371.1 138.8 371.5 141.4 373.2 145C374.9 148.6 377.2 154.2 378 156M360.6 103.2C362.7 105.1 369.7 110.9 373.2 114.4C376.7 117.9 379.6 121.5 381.7 124.3C383.8 127.1 385.3 129.9 386 131M270.6 144.1C274.6 146 286.3 150.9 294.5 155.4C302.7 159.9 311.8 164.8 319.9 170.8C328 176.8 338 186.8 343.4 191.3C348.8 195.8 350.6 196.9 352 198M347.7 151.8C350.5 154.4 359.2 161.1 364.6 167.3C370 173.5 377.4 185.4 380 189M293.4 187.7C297 190.3 308 198.1 315.2 203.2C322.4 208.2 330.4 213.2 336.3 218C342.2 222.8 346.2 227.9 350.4 232.1C354.6 236.3 359.1 240.6 361.7 243.4C364.3 246.2 365.3 248.1 366 249M291 231C292 231.9 292.9 233.8 296.9 236.3C300.9 238.8 309.1 241.8 315.2 246.2C321.3 250.5 327.6 257 333.5 262.4C339.4 267.8 345.2 273 350.4 278.6C355.6 284.2 361.1 291.3 364.5 296.2C367.9 301.1 369.9 306 371 308M280 256C282.4 257.8 289.4 263.2 294.1 266.6C298.8 270 303.1 272.6 308.2 276.5C313.3 280.4 320.3 285.4 325 290C329.7 294.6 332.8 299.4 336.3 304.1C339.8 308.8 343.2 313.6 346.2 318.2C349.1 322.8 352.7 329.7 354 332M282.8 321C284.7 322.6 289.9 326.6 294.1 330.8C298.3 335 304.2 341.4 308.2 346.3C312.2 351.2 314 353.2 318 360C322 366.8 329.7 382.5 332 387M307 305.5C307.4 306 307.1 305.5 309.6 308.3C312.2 311.1 317.9 317.5 322.3 322.4C326.8 327.3 332.1 332.7 336.3 337.9C340.5 343.1 345 349.4 347.6 353.4C350.2 357.4 351.3 360.6 352 362M287 373C288.9 375.3 293.9 380.3 298.2 387C302.5 393.7 310.5 408.7 313 413" fill="none" stroke="#626a6e" stroke-width="1" stroke-dasharray="6.2 2.8"/>
<path d="M115.5 143.4C122.9 143.4 147.6 143.3 160 143.4C172.4 143.5 181.7 143.7 190 144.2C198.3 144.7 204.3 145.6 210 146.2C215.7 146.8 218.2 147 224.1 147.6C230 148.2 237.4 148.7 245.2 149.6C252.9 150.5 263.3 151.5 270.6 152.8C277.9 154.1 283.3 155.5 288.9 157.2C294.5 158.9 301.5 161.9 304 162.9L285.6 201.5L280 212L115.5 212Z" fill="#84cbd1"/>
<path d="M115.5 143.4C122.9 143.4 147.6 143.3 160 143.4C172.4 143.5 181.7 143.7 190 144.2C198.3 144.7 204.3 145.6 210 146.2C215.7 146.8 218.2 147 224.1 147.6C230 148.2 237.4 148.7 245.2 149.6C252.9 150.5 263.3 151.5 270.6 152.8C277.9 154.1 283.3 155.5 288.9 157.2C294.5 158.9 301.5 161.9 304 162.9L285.6 201.5" fill="none" stroke="#4a4444" stroke-width="0.9" stroke-linejoin="round"/>
<path d="M115.5 189.8C122.9 189.8 147.5 189.9 160 190C172.5 190.1 178.7 189.9 190.5 190.4C202.3 190.9 217.4 191.6 230.7 192.8C244 194 260.3 195.9 270.2 197.4C280.1 198.9 284.3 200.3 290 201.8C295.7 203.3 302 205.7 304.4 206.5L278 259L270 265L115.5 265Z" fill="#84cbd1"/>
<path d="M115.5 189.8C122.9 189.8 147.5 189.9 160 190C172.5 190.1 178.7 189.9 190.5 190.4C202.3 190.9 217.4 191.6 230.7 192.8C244 194 260.3 195.9 270.2 197.4C280.1 198.9 284.3 200.3 290 201.8C295.7 203.3 302 205.7 304.4 206.5L278 259" fill="none" stroke="#4a4444" stroke-width="0.9" stroke-linejoin="round"/>
<path d="M262.2 255.6C264.9 256.2 273.4 257.5 278.3 259.1C283.2 260.7 287.2 262.5 291.4 265.2C295.6 267.9 301.3 273.7 303.3 275.4L280.3 322.3L260 325L232 318Z" fill="#84cbd1"/>
<path d="M262.2 255.6C264.9 256.2 273.4 257.5 278.3 259.1C283.2 260.7 287.2 262.5 291.4 265.2C295.6 267.9 301.3 273.7 303.3 275.4L280.3 322.3" fill="none" stroke="#4a4444" stroke-width="0.9" stroke-linejoin="round"/>
<path d="M238.6 306.6C242.2 307.5 253.1 309.1 260.2 311.7C267.3 314.3 274.9 317.4 281.3 322.2C287.7 327 294.5 335.6 298.4 340.3C302.3 345 303.5 348.7 304.5 350.4L261.8 434.5C260.5 432.8 256.9 427.4 254 424C251.1 420.6 248.6 417.9 244.3 414.4C240 410.8 230.9 404.6 228.2 402.7L220 380L225 320Z" fill="#84cbd1"/>
<path d="M238.6 306.6C242.2 307.5 253.1 309.1 260.2 311.7C267.3 314.3 274.9 317.4 281.3 322.2C287.7 327 294.5 335.6 298.4 340.3C302.3 345 303.5 348.7 304.5 350.4L261.8 434.5C260.5 432.8 256.9 427.4 254 424C251.1 420.6 248.6 417.9 244.3 414.4C240 410.8 230.9 404.6 228.2 402.7" fill="none" stroke="#4a4444" stroke-width="0.9" stroke-linejoin="round"/>
<path clip-path="url(#c_teal)" d="M115.6 149.6C121.7 150.9 139.2 153.4 152.3 157.5C165.5 161.6 182.8 169 194.5 174.4C206.2 179.8 213.3 184.7 222.7 189.9C232.1 195.1 242.4 200 250.8 205.4C259.2 210.8 266.9 216.2 273.4 222.3C279.9 228.4 287.2 238.7 290 242M224.1 147.6C227.6 149.4 238.2 154.1 245.2 158.2C252.2 162.3 259.1 166.7 266.3 172.3C273.5 177.9 283.9 187.9 288.2 192C292.5 196.1 291.4 196.2 292 197M156.5 190.8C162.8 192.8 182.5 197.8 194.5 202.6C206.5 207.4 218 213.4 228.3 219.5C238.6 225.6 249.6 233.8 256.5 239.2C263.4 244.6 267.8 249.9 270 252M262 257C264.2 258.9 270.7 263.5 275.3 268.2C279.9 272.9 285.9 280 289.4 285.3C292.8 290.6 294.9 297.6 296 300M247 288C248.7 290.5 254 297.8 257.2 303C260.4 308.2 264.5 316.3 266 319M256.5 335C258.4 338.8 263.9 350 267.7 358C271.4 366 274.9 374 279 383C283.1 392 289.8 407.2 292 412M242.4 393C244.8 396.3 252.2 406 256.5 412.7C260.8 419.4 266.1 429.6 268 433M276 312C277.4 314 281.2 318.6 284.2 323.8C287.2 329.1 291.5 338 294.1 343.5C296.7 349 299 354.8 300 357" fill="none" stroke="#626a6e" stroke-width="1" stroke-dasharray="6.2 2.8"/>
<path d="M115.5 210.1C121.2 210.2 137.5 210.2 150 210.9C162.5 211.6 179.1 213 190.5 214.5C201.9 216 211.7 218.4 218.6 220C225.5 221.6 226.6 221.8 232 223.8C237.4 225.8 244.7 228.5 251 231.8C257.3 235.1 266.8 241.8 269.9 243.8L236.4 312L115.5 312Z" fill="#84cbd1"/>
<path d="M115.5 210.1C121.2 210.2 137.5 210.2 150 210.9C162.5 211.6 179.1 213 190.5 214.5C201.9 216 211.7 218.4 218.6 220C225.5 221.6 226.6 221.8 232 223.8C237.4 225.8 244.7 228.5 251 231.8C257.3 235.1 266.8 241.8 269.9 243.8L236.4 312" fill="none" stroke="#4a4444" stroke-width="0.9" stroke-linejoin="round"/>
<path d="M115.5 235.1C124.7 235.4 156.3 236.1 170.4 237.1C184.5 238.1 191.3 239.5 200 240.8C208.7 242.2 215.2 243.6 222.7 245.2C230.2 246.8 238.3 248.7 245 250.6C251.7 252.5 260 255.8 263 256.8L236.4 312L115.5 312Z" fill="#84cbd1"/>
<path d="M115.5 235.1C124.7 235.4 156.3 236.1 170.4 237.1C184.5 238.1 191.3 239.5 200 240.8C208.7 242.2 215.2 243.6 222.7 245.2C230.2 246.8 238.3 248.7 245 250.6C251.7 252.5 260 255.8 263 256.8L236.4 312" fill="none" stroke="#4a4444" stroke-width="0.9" stroke-linejoin="round"/>
<path d="M115.5 300.1C124.7 300.3 154.6 300.2 170.4 301.1C186.2 302 199.5 303.7 210.6 305.5C221.7 307.3 229.9 309.5 236.8 311.8C243.7 314.1 247.4 316.5 252 319.2C256.6 321.9 262.4 326.7 264.5 328.2L215.8 425.9C214 424.3 208.9 419.1 204.7 416.2C200.5 413.2 196.3 410.5 190.6 408.2C184.9 405.9 178.6 404.2 170.5 402.5C162.4 400.8 151.1 399.4 141.9 398.1C132.7 396.8 119.9 395.1 115.5 394.5Z" fill="#84cbd1"/>
<path d="M115.5 300.1C124.7 300.3 154.6 300.2 170.4 301.1C186.2 302 199.5 303.7 210.6 305.5C221.7 307.3 229.9 309.5 236.8 311.8C243.7 314.1 247.4 316.5 252 319.2C256.6 321.9 262.4 326.7 264.5 328.2L215.8 425.9C214 424.3 208.9 419.1 204.7 416.2C200.5 413.2 196.3 410.5 190.6 408.2C184.9 405.9 178.6 404.2 170.5 402.5C162.4 400.8 151.1 399.4 141.9 398.1C132.7 396.8 119.9 395.1 115.5 394.5" fill="none" stroke="#4a4444" stroke-width="0.9" stroke-linejoin="round"/>
<path clip-path="url(#c_teal1)" d="M150.2 211.5C154.8 213.8 168.8 220.9 177.6 225C186.4 229.1 194.6 232.1 203 236.3C211.4 240.5 221.3 245.2 228.3 250.4C235.3 255.6 241.1 261.7 245.2 267.3C249.3 272.9 251.7 281.2 253 284M218.6 220.5C221.2 221.7 227.7 223.8 234 227.5C240.3 231.2 250.8 237.9 256.5 242.5C262.2 247.1 266.1 252.9 268 255M115.6 230.6C119.4 231.6 129.8 233.5 138.2 236.3C146.6 239.1 156.9 243.1 166.3 247.5C175.7 251.9 185.1 256.6 194.5 263C203.9 269.4 215.1 278.4 222.7 285.6C230.3 292.8 237.1 302.6 240 306M115.6 256C119.4 257.4 129.8 260.6 138.2 264.4C146.6 268.1 156.9 273.3 166.3 278.5C175.7 283.7 187.2 290.6 194.5 295.4C201.8 300.2 204.1 303.5 210 307.5C215.9 311.5 223.2 314.5 230 319.5C236.8 324.5 245.8 332.9 250.8 337.7C255.8 342.4 258.5 346.3 260 348M152.3 302.8C157 304.9 171 310.3 180.4 315.5C189.8 320.7 200.2 327 208.6 333.8C217 340.6 225.4 348.9 231.1 356.3C236.8 363.7 241 374.4 243 378M115.6 322.5C119.4 323.7 129.8 325.8 138.2 329.6C146.6 333.4 156.9 338.8 166.3 345.1C175.7 351.4 186.5 360.1 194.5 367.6C202.5 375.1 208.6 383 214.2 390.1C219.8 397.2 225.7 406.7 228 410M115.6 363.4C119.4 365 129.8 368.8 138.2 373.2C146.6 377.6 158.3 384.6 166.3 390.1C174.3 395.6 182.7 403.4 186 406" fill="none" stroke="#626a6e" stroke-width="1" stroke-dasharray="6.2 2.8"/>
<path d="M115.5 143.4V394.5" fill="none" stroke="#4a4444" stroke-width="0.9"/>
<path d="M115.2 55V434.7M141.4 55V434.7M223 55V434.7M270.7 55V434.7M304.5 55V434.7M330.8 55V434.7M412.3 55V434.7M493.8 55V434.7M541.5 55V434.7M575.4 55V434.7M601.6 55V434.7M683.2 55V434.7M764.7 55V434.7M115.2 434.7H764.7M115.2 408.4H764.7M115.2 360.6H764.7M115.2 326.6H764.7M115.2 278.8H764.7M115.2 244.9H764.7M115.2 218.6H764.7M115.2 136.8H764.7M115.2 89H764.7M115.2 55H764.7" fill="none" stroke="#28424e" stroke-opacity="0.16" stroke-width="0.8"/>
<g fill="none" stroke="#333" stroke-width="0.9"><rect x="447.2" y="6.3" width="112.2" height="16.2" fill="#fff"/><rect x="453.8" y="30.6" width="78.4" height="16.4" fill="#fff"/><path d="M447.2 14.3H439.5L396.4 100.4M453.8 39H447.2L410.3 113.3"/><path d="M395.4 93.6L396.4 100.4L402.3 96.9M409.2 106.5L410.3 113.3L416.2 109.7"/></g>
<g font-family="'Liberation Sans',Arial,sans-serif" font-size="11.5" fill="#222" stroke="#222" stroke-width="0.3" text-anchor="middle"><text x="503.2" y="18.5" textLength="102.4" lengthAdjust="spacingAndGlyphs">Motor output in kW</text><text x="493.1" y="42.8" textLength="67.5" lengthAdjust="spacingAndGlyphs">Pump model</text></g>
<g font-family="'Liberation Sans',Arial,sans-serif" font-size="5.6" fill="#343434" text-anchor="middle">
<text x="156" y="179.5">7.5</text>
<text x="220.5" y="174">11</text>
<text x="158.5" y="205">5.5</text>
<text x="229" y="206.5">7.5</text>
<text x="145.8" y="225">4</text>
<text x="118" y="234">3</text>
<text x="156.7" y="258.2">3</text>
<text x="211.2" y="253.2">4</text>
<text x="234.3" y="241.5">5.5</text>
<text x="258.6" y="243.1">7.5</text>
<text x="249.9" y="261.2">5.5</text>
<text x="145.2" y="288.4">2.2</text>
<text x="119" y="299.5">7.5</text>
<text x="245.8" y="305.4">3</text>
<text x="263.4" y="304.5">4</text>
<text x="167.7" y="334.8">1.5</text>
<text x="224.3" y="332.8">2.2</text>
<text x="257.3" y="332.8">3</text>
<text x="162.3" y="371.4">1.1</text>
<text x="131.5" y="388.5">0.75</text>
<text x="259.9" y="389.5">2.2</text>
<text x="240" y="404.5">1.5</text>
<text x="281.5" y="349.5">3</text>
<text x="299.5" y="353.5">4</text>
<text x="297.4" y="165.2">18.5</text>
<text x="285.7" y="179.7">15</text>
<text x="280.3" y="207.9">11</text>
<text x="276.3" y="270.4">5.5</text>
<text x="302.4" y="275.4">7.5</text>
<text x="248.4" y="132.5">22</text>
<text x="285.2" y="116.7">30</text>
<text x="316.4" y="107.8">37</text>
<text x="349.3" y="108.3">45</text>
<text x="381.3" y="122.4">55</text>
<text x="323" y="167.2">18.5</text>
<text x="351.3" y="166.6">22</text>
<text x="372.3" y="168.8">30</text>
<text x="310.1" y="183.7">15</text>
<text x="336" y="207.5">15</text>
<text x="370.8" y="210.9">18.5</text>
<text x="311.5" y="231.1">11</text>
<text x="294.8" y="241.6">7.5</text>
<text x="320.5" y="271">7.5</text>
<text x="354.7" y="271">11</text>
<text x="313.1" y="300.5">5.5</text>
<text x="294.4" y="302.5">4</text>
<text x="312.4" y="332.2">4</text>
<text x="341.2" y="335.9">5.5</text>
<text x="309.5" y="380.5">3</text>
<text x="291.5" y="405">2.2</text>
<text x="393.7" y="108.3">55</text>
<text x="393" y="133">45</text>
<text x="399.9" y="150.5">37</text>
<text x="433.3" y="127">75</text>
<text x="383.4" y="138">37</text>
<text x="426.2" y="154.6">55</text>
<text x="400" y="181.5">30</text>
<text x="383.9" y="191.4">22</text>
<text x="384.7" y="242.2">15</text>
<text x="405.2" y="238.2">18.5</text>
<text x="421.3" y="231.1">22</text>
<text x="430" y="226.5">30</text>
<text x="404.2" y="271.8">15</text>
<text x="395.2" y="298.9">11</text>
<text x="373.4" y="308.1">7.5</text>
<text x="383.4" y="336.3">7.5</text>
<text x="375.4" y="367.9">5.5</text>
<text x="349.2" y="384.2">4</text>
<text x="335.5" y="396">3</text>
<text x="455.4" y="124.2">75</text>
<text x="480.2" y="118.8">90</text>
<text x="503.4" y="124.9">110</text>
<text x="442.9" y="141.4">55</text>
<text x="444.4" y="163.1">45</text>
<text x="470.6" y="165.5">55</text>
<text x="425.5" y="191">30</text>
<text x="449.5" y="189.7">37</text>
<text x="465.8" y="211.2">37</text>
<text x="449.3" y="226.4">30</text>
<text x="439.4" y="239.8">22</text>
<text x="430.4" y="254.9">18.5</text>
<text x="451.5" y="276.4">18.5</text>
<text x="442.8" y="297">15</text>
<text x="424.5" y="307">11</text>
<text x="441.2" y="341">11</text>
<text x="423.3" y="370.5">7.5</text>
<text x="398.5" y="374.5">5.5</text>
<text x="510.8" y="105.5">132</text>
<text x="533.6" y="101.7">160</text>
<text x="561.3" y="108.8">200</text>
<text x="522.9" y="132.9">110</text>
<text x="508.8" y="144">90</text>
<text x="540" y="171.5">90</text>
<text x="485.7" y="180.5">55</text>
<text x="520.1" y="182.5">75</text>
<text x="474.2" y="187.1">45</text>
<text x="484.7" y="199.6">45</text>
<text x="523.1" y="211.2">55</text>
<text x="480.8" y="218.8">37</text>
<text x="470.1" y="240.6">30</text>
<text x="453.3" y="253.3">22</text>
<text x="479.3" y="276">22</text>
<text x="476.2" y="299.1">18.5</text>
<text x="520.5" y="298.6">30</text>
<text x="479.3" y="335.4">15</text>
<text x="471.9" y="359.5">11</text>
<text x="563.1" y="129.9">132</text>
<text x="581.6" y="131.3">160</text>
<text x="568.2" y="156.4">110</text>
<text x="549.7" y="150">90</text>
<text x="561.7" y="168.7">110</text>
<text x="557.7" y="192.2">90</text>
<text x="544.6" y="199.5">75</text>
<text x="554.7" y="213">75</text>
<text x="550.6" y="241.8">55</text>
<text x="532.4" y="253.4">45</text>
<text x="523.6" y="265.2">37</text>
<text x="534.5" y="315">30</text>
<text x="549.5" y="309.2">37</text>
<text x="514.5" y="357.1">18.5</text>
<text x="531.6" y="352.1">22</text>
<text x="593.5" y="144.5">110</text>
<text x="611.7" y="145.9">200</text>
<text x="636.3" y="156.7">230</text>
<text x="611" y="171">160</text>
<text x="628.4" y="173.2">200</text>
<text x="590.5" y="196">110</text>
<text x="612" y="199.3">132</text>
<text x="578.4" y="199.5">20</text>
<text x="587.2" y="214.6">90</text>
<text x="610.2" y="225.3">110</text>
<text x="588.2" y="253.4">75</text>
<text x="568.2" y="265">55</text>
<text x="558" y="274.4">45</text>
<text x="665.6" y="201.4">200</text>
<text x="688.6" y="206.3">230</text>
<text x="628.8" y="215.3">132</text>
<text x="647" y="214.8">160</text>
<text x="631.5" y="241.5">110</text>
<text x="622.9" y="252.6">90</text>
<text x="623" y="287.4">75</text>
<text x="606.5" y="297.1">55</text>
<text x="588" y="307.9">45</text>
<text x="549.3" y="292.5">37</text>
</g>
<g font-family="'Liberation Sans',Arial,sans-serif" font-size="9" fill="#2b2b2b" stroke="#2b2b2b" stroke-width="0.14" text-anchor="middle">
<text x="264.6" y="168">32-250</text>
<text x="261.2" y="219.3">32-200</text>
<text x="214.2" y="233.2">32-200.1</text>
<text x="187.5" y="273.5">32-160.1</text>
<text x="269.6" y="292.7">32-160</text>
<text x="188.5" y="347.5">32-125.1</text>
<text x="269.5" y="371.7">32-125</text>
<text x="352.6" y="128">40-315</text>
<text x="348.7" y="180.9">40-250</text>
<text x="335.6" y="230.5">40-200</text>
<text x="347.7" y="289.7">40-160</text>
<text x="323" y="348.5">40-125</text>
<text x="411.5" y="123.2">50-315</text>
<text x="405.5" y="169.7">50-250</text>
<text x="406.8" y="220.8">50-200</text>
<text x="396.2" y="289.3">50-160</text>
<text x="367" y="355.2">50-125</text>
<text x="472.6" y="135.1">65-315</text>
<text x="450" y="178.2">65-250</text>
<text x="447.5" y="219.2">65-200</text>
<text x="440.8" y="288.7">65-160</text>
<text x="434.1" y="358.2">65-125</text>
<text x="538.6" y="119.4">80-315L</text>
<text x="509.4" y="172.1">80-250</text>
<text x="501" y="231.6">80-200</text>
<text x="497" y="311.8">80-160</text>
<text x="567.8" y="143.2">100-315L</text>
<text x="564.3" y="185">100-250</text>
<text x="545.4" y="232.7">100-200</text>
<text x="532.6" y="333.6">100-160</text>
<text x="611.7" y="134.4">125-315</text>
<text x="605.4" y="183.2">125-250L</text>
<text x="592.5" y="235">125-200</text>
<text x="670.8" y="228.2">150-250</text>
<text x="618.5" y="270.9">150-200</text>
</g>
<g font-family="'Liberation Sans',Arial,sans-serif" font-size="12.3" fill="#6c6c6c">
<text x="104.4" y="439" text-anchor="end" textLength="5.8" lengthAdjust="spacingAndGlyphs">8</text>
<text x="104.4" y="412.7" text-anchor="end" textLength="11.7" lengthAdjust="spacingAndGlyphs">10</text>
<text x="104.4" y="364.9" text-anchor="end" textLength="11.7" lengthAdjust="spacingAndGlyphs">15</text>
<text x="104.4" y="330.9" text-anchor="end" textLength="11.7" lengthAdjust="spacingAndGlyphs">20</text>
<text x="104.4" y="283.1" text-anchor="end" textLength="11.7" lengthAdjust="spacingAndGlyphs">30</text>
<text x="104.4" y="249.2" text-anchor="end" textLength="11.7" lengthAdjust="spacingAndGlyphs">40</text>
<text x="104.4" y="222.9" text-anchor="end" textLength="11.7" lengthAdjust="spacingAndGlyphs">50</text>
<text x="104.4" y="141.1" text-anchor="end" textLength="17.5" lengthAdjust="spacingAndGlyphs">100</text>
<text x="104.4" y="93.3" text-anchor="end" textLength="17.5" lengthAdjust="spacingAndGlyphs">150</text>
<text x="104.4" y="59.3" text-anchor="end" textLength="17.5" lengthAdjust="spacingAndGlyphs">200</text>
<text x="114.7" y="457.7" text-anchor="middle" textLength="5.9" lengthAdjust="spacingAndGlyphs">8</text>
<text x="141.2" y="457.7" text-anchor="middle" textLength="11.8" lengthAdjust="spacingAndGlyphs">10</text>
<text x="222.6" y="457.7" text-anchor="middle" textLength="11.8" lengthAdjust="spacingAndGlyphs">20</text>
<text x="268.9" y="457.7" text-anchor="middle" textLength="11.8" lengthAdjust="spacingAndGlyphs">30</text>
<text x="303.1" y="457.7" text-anchor="middle" textLength="11.8" lengthAdjust="spacingAndGlyphs">40</text>
<text x="330.1" y="457.7" text-anchor="middle" textLength="11.8" lengthAdjust="spacingAndGlyphs">50</text>
<text x="409.9" y="457.7" text-anchor="middle" textLength="17.7" lengthAdjust="spacingAndGlyphs">100</text>
<text x="492.4" y="457.7" text-anchor="middle" textLength="17.7" lengthAdjust="spacingAndGlyphs">200</text>
<text x="540.4" y="457.7" text-anchor="middle" textLength="17.7" lengthAdjust="spacingAndGlyphs">300</text>
<text x="572.4" y="457.7" text-anchor="middle" textLength="17.7" lengthAdjust="spacingAndGlyphs">400</text>
<text x="600" y="457.7" text-anchor="middle" textLength="17.7" lengthAdjust="spacingAndGlyphs">500</text>
<text x="679.4" y="457.7" text-anchor="middle" textLength="23.6" lengthAdjust="spacingAndGlyphs">1000</text>
<text x="763.7" y="457.7" text-anchor="middle" textLength="23.6" lengthAdjust="spacingAndGlyphs">2000</text>
</g>
<g font-family="'Liberation Sans',Arial,sans-serif" fill="#646464">
<text x="436" y="487.6" font-size="19.6" text-anchor="middle" textLength="153" lengthAdjust="spacing">Capacity (m<tspan font-size="11" dy="-7">3</tspan><tspan dy="7">/h)</tspan></text>
<text transform="translate(76.6 240.2) rotate(-90)" font-size="19.6" text-anchor="middle" textLength="146.5" lengthAdjust="spacing">Total Head (m)</text>
</g>
<text x="34" y="24" font-family="'Liberation Sans',Arial,sans-serif" font-weight="700" font-size="21.4" fill="#1b4e72" stroke="#1b4e72" stroke-width="0.45" textLength="161.5" lengthAdjust="spacing">2 Pole || 50 hz</text>
</svg>
</body></html>
